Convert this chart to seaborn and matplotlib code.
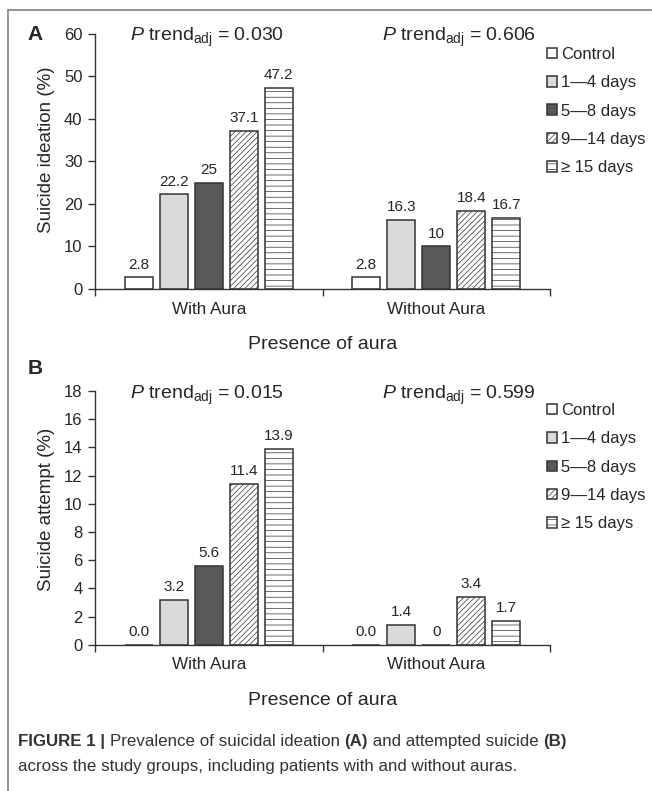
#!/usr/bin/env python3

import matplotlib
import pandas as pd
import seaborn as sns
from matplotlib import pyplot as plt
from matplotlib.lines import Line2D
from matplotlib.text import Annotation

matplotlib.use("Agg")

groups = ["With Aura", "Without Aura"]
durations = ["Control", "1\u20144 days", "5\u20148 days", "9\u201414 days", "\u2265 15 days"]
colors = ["#ffffff", "#d9d9d9", "#595959", "#ffffff", "#ffffff"]
hatches = ["", "", "", "//////", "---"]

# value labels as printed on the bars (values are read from them)
ideation_with = ["2.8", "22.2", "25", "37.1", "47.2"]
ideation_without = ["2.8", "16.3", "10", "18.4", "16.7"]
attempt_with = ["0.0", "3.2", "5.6", "11.4", "13.9"]
attempt_without = ["0.0", "1.4", "0", "3.4", "1.7"]

ptrend_ideation = ["0.030", "0.606"]
ptrend_attempt = ["0.015", "0.599"]

W, H = 652, 791
EDGE = "#333333"

sns.set_style("ticks")
plt.rcParams["font.family"] = ["Liberation Sans", "DejaVu Sans"]
plt.rcParams["mathtext.fontset"] = "custom"
plt.rcParams["mathtext.rm"] = "Liberation Sans"
plt.rcParams["mathtext.it"] = "Liberation Sans:italic"
plt.rcParams["hatch.linewidth"] = 0.5
plt.rcParams["hatch.color"] = "#444444"


def make_df(with_vals, without_vals):
    rows = []
    for group, vals in zip(groups, [with_vals, without_vals]):
        for dur, v in zip(durations, vals):
            rows.append((group, dur, float(v), v))
    return pd.DataFrame(rows, columns=["group", "duration", "value", "label"])


def fx(px):
    return px / W


def fy(py):
    return 1 - py / H


def draw_panel(fig, rect, df, ymax, ystep, ylabel, ylabel_pos, ptrends, letter,
               letter_y, ptrend_y, legend_top):
    ax = fig.add_axes(rect)
    sns.barplot(data=df, x="group", y="value", hue="duration", order=groups,
                hue_order=durations, palette=dict(zip(durations, colors)),
                saturation=1, width=0.77, gap=0.2, edgecolor=EDGE,
                linewidth=1.1, legend=False, errorbar=None, ax=ax)

    for cont, hatch, dur in zip(ax.containers, hatches, durations):
        for bar in cont:
            bar.set_hatch(hatch)
        labels = [df[(df.group == g) & (df.duration == dur)].label.iloc[0]
                  for g in groups]
        ax.bar_label(cont, labels=labels, padding=4, fontsize=11)

    ax.set_ylim(0, ymax)
    ax.set_yticks(range(0, ymax + 1, ystep))
    ax.set_xlim(-0.5, 1.5)
    ax.set_xticks([-0.5, 0.5, 1.5], minor=True)
    ax.tick_params(axis="x", which="major", length=0, pad=9, labelsize=12.3)
    ax.tick_params(axis="x", which="minor", length=5, width=1, color=EDGE)
    ax.tick_params(axis="y", length=5, width=1, color=EDGE, labelsize=12,
                   pad=4)
    for side in ["left", "bottom"]:
        ax.spines[side].set_color(EDGE)
        ax.spines[side].set_linewidth(1)
    sns.despine(ax=ax)

    ax.set_ylabel(ylabel, fontsize=13.5)
    ax.yaxis.set_label_coords(-0.088, ylabel_pos)
    ax.set_xlabel("Presence of aura", fontsize=14, labelpad=14)

    for xc, p in zip([207, 459], ptrends):
        fig.text(fx(xc), fy(ptrend_y), r"$\mathit{P}$ trend$_{\mathrm{adj}}$ = " + p,
                 ha="center", va="center", fontsize=14)
    fig.text(fx(35), fy(letter_y), letter, ha="center", va="center",
             fontsize=15, fontweight="bold")

    ax.legend(ax.containers, durations, loc="upper left",
              bbox_to_anchor=(fx(547), fy(legend_top)),
              bbox_transform=fig.transFigure, frameon=False, fontsize=12,
              handlelength=0.6, handleheight=0.6, handletextpad=0.25,
              labelspacing=0.8, borderpad=0, borderaxespad=0)
    return ax


def caption_line(fig, x, y, pieces):
    prev = fig.text(x, y, pieces[0][0], fontsize=12.2, fontweight=pieces[0][1],
                    color="#333333", va="bottom")
    for text, weight in pieces[1:]:
        prev = fig.add_artist(Annotation(text, xy=(1, 0), xycoords=prev,
                                         va="bottom", fontsize=12.2,
                                         fontweight=weight, color="#333333",
                                         annotation_clip=False))
    return prev


def main():
    fig = plt.figure(figsize=(W / 100, H / 100), dpi=100)

    draw_panel(fig, [fx(95), fy(289), fx(550) - fx(95), fy(33.5) - fy(289)],
               make_df(ideation_with, ideation_without), 60, 10,
               "Suicide ideation (%)", 0.545, ptrend_ideation, "A", 34, 37, 47)
    draw_panel(fig, [fx(95), fy(644.7), fx(550) - fx(95), fy(391) - fy(644.7)],
               make_df(attempt_with, attempt_without), 18, 2,
               "Suicide attempt (%)", 0.535, ptrend_attempt, "B", 368, 395, 403)

    caption_line(fig, fx(18), fy(749), [
        ("FIGURE 1 | ", "bold"),
        ("Prevalence of suicidal ideation ", "normal"),
        ("(A)", "bold"),
        (" and attempted suicide ", "normal"),
        ("(B)", "bold"),
    ])
    caption_line(fig, fx(18), fy(774), [
        ("across the study groups, including patients with and without auras.",
         "normal"),
    ])

    fig.add_artist(Line2D([fx(8), fx(8)], [0, fy(10)], color="#8a8a8a", lw=1.3))
    fig.add_artist(Line2D([fx(8), 1], [fy(10), fy(10)], color="#8a8a8a", lw=1.3))

    plt.savefig("out.png", dpi=100)


if __name__ == "__main__":
    main()
